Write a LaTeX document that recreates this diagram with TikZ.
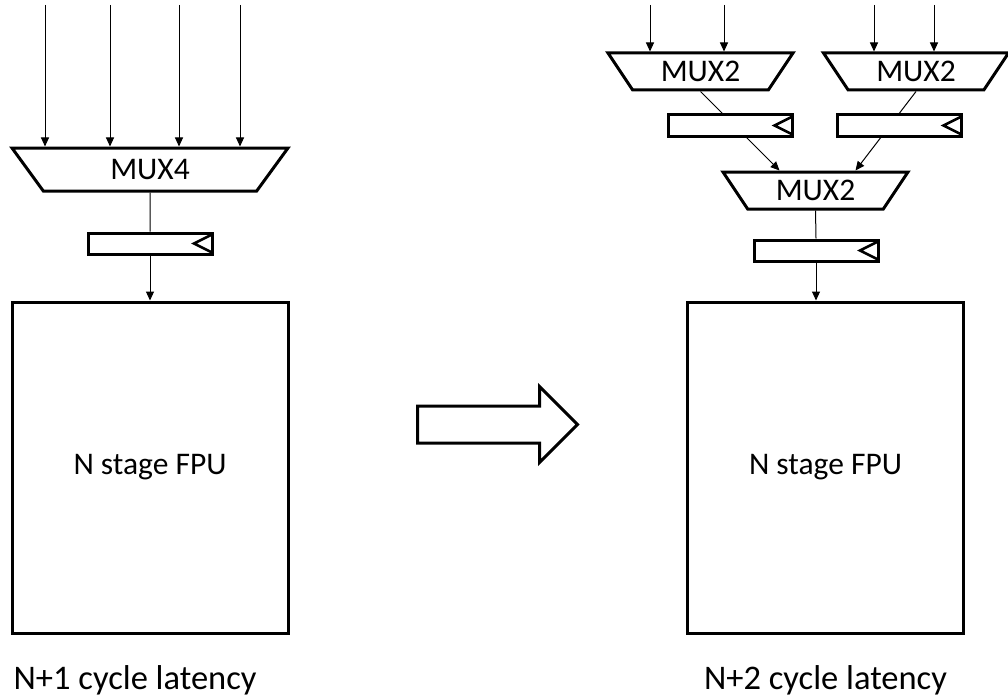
\documentclass[tikz,border=0pt]{standalone}
\usepackage{fontspec}
\setmainfont{Carlito}
\usetikzlibrary{arrows.meta,positioning,calc,shapes.geometric,shapes.arrows}
\tikzset{
  mux/.style={trapezium, trapezium stretches body, shape border rotate=180, draw=black, line width=3pt, fill=white, inner sep=2pt},
  muxfour/.style={mux, trapezium angle=38, minimum width=276pt, minimum height=43pt},
  muxtwo/.style={mux, trapezium angle=45, minimum width=185pt, minimum height=37pt},
  reg/.style={rectangle, draw=black, line width=3pt, fill=white, minimum width=124pt, minimum height=21pt, inner sep=0pt},
  clk/.style={line width=2.5pt, line join=miter},
  fpu/.style={rectangle, draw=black, line width=3pt, minimum width=276pt, minimum height=331pt},
  wire/.style={line width=1pt},
  arrow/.style={-{Triangle[length=9pt,width=8pt]}, line width=1pt},
  bigarrow/.style={single arrow, draw=black, line width=3pt, minimum height=160pt, inner xsep=0pt, inner ysep=17pt, single arrow head extend=19.5pt},
  caption/.style={inner sep=0pt, font=\fontsize{34.5}{40}\selectfont}
}
\begin{document}
\begin{tikzpicture}[x=1pt,y=1pt,font=\fontsize{31.5}{38}\selectfont]
  \useasboundingbox (0,0) rectangle (1008,-698);
  \coordinate (in1) at (45,-5);
  \coordinate (in2) at (110,-5);
  \coordinate (in3) at (179,-5);
  \coordinate (in4) at (240,-5);
  \node[muxfour] (mux4) at (150,-169.5) {MUX4};
  \foreach \c in {in1,in2,in3,in4} \draw[arrow] (\c) -- (\c |- mux4.north);
  \node[reg] (lreg) at (150,-243.5) {};
  \node[fpu] (fpul) at (150,-467.5) {N stage FPU};
  \draw[wire] (mux4.south) -- (lreg.north);
  \draw[arrow] (lreg.south) -- (fpul.north);
  \node[caption, anchor=base west] (latl) at ($(fpul.south west)+(3,-55)$) {N+1 cycle latency};

  \node[bigarrow, anchor=tail] (shift) at (416,-424.5) {};

  \coordinate (ina1) at (650,-5);
  \coordinate (ina2) at (724,-5);
  \coordinate (inb1) at (874,-5);
  \coordinate (inb2) at (934,-5);
  \node[muxtwo] (muxa) at (700.5,-71.5) {MUX2};
  \node[muxtwo] (muxb) at (916,-71.5) {MUX2};
  \node[muxtwo] (muxc) at (815.5,-190.5) {MUX2};
  \foreach \c in {ina1,ina2} \draw[arrow] (\c) -- (\c |- muxa.north);
  \foreach \c in {inb1,inb2} \draw[arrow] (\c) -- (\c |- muxb.north);
  \draw[arrow] (muxa.south) -- ($(muxc.north)+(-36,0)$);
  \draw[arrow] (muxb.south) -- ($(muxc.north)+(40,0)$);
  \node[reg] (rega) at (730.5,-125.5) {};
  \node[reg] (regb) at (899.5,-125.5) {};
  \node[reg] (regc) at (816,-250.5) {};
  \node[fpu] (fpur) at (825.5,-467.5) {N stage FPU};
  \draw[wire] (muxc.south) -- (regc.north);
  \draw[arrow] (regc.south) -- (regc.south |- fpur.north);
  \node[caption, anchor=base] (latr) at ($(fpur.south)+(0,-55)$) {N+2 cycle latency};

  \foreach \r in {lreg,rega,regb,regc}
    \draw[clk] ($(\r.east)+(-1.5,9)$) -- ++(-18,-9) -- ++(18,-9);
\end{tikzpicture}
\end{document}
